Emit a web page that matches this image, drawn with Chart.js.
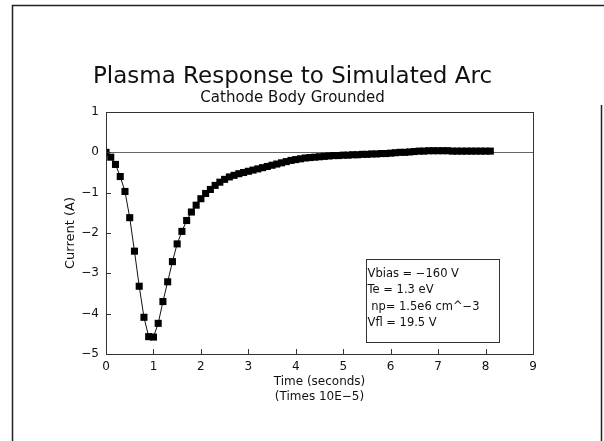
<!DOCTYPE html>
<html>
<head>
<meta charset="utf-8">
<script src="https://cdn.jsdelivr.net/npm/chart.js@4.4.1/dist/chart.umd.min.js"></script>
<style>
  html, body { margin: 0; padding: 0; background: #fff; }
  #wrap { width: 604px; height: 441px; }
</style>
</head>
<body>
<div id="wrap"><canvas id="myChart" width="604" height="441"></canvas></div>
<script>
// time in units of 1e-5 s, current in A
var times = [0.0, 0.1, 0.2, 0.3, 0.4, 0.5, 0.6, 0.7, 0.8, 0.9,
  1.0, 1.1, 1.2, 1.3, 1.4, 1.5, 1.6, 1.7, 1.8, 1.9,
  2.0, 2.1, 2.2, 2.3, 2.4, 2.5, 2.6, 2.7, 2.8, 2.9,
  3.0, 3.1, 3.2, 3.3, 3.4, 3.5, 3.6, 3.7, 3.8, 3.9,
  4.0, 4.1, 4.2, 4.3, 4.4, 4.5, 4.6, 4.7, 4.8, 4.9,
  5.0, 5.1, 5.2, 5.3, 5.4, 5.5, 5.6, 5.7, 5.8, 5.9,
  6.0, 6.1, 6.2, 6.3, 6.4, 6.5, 6.6, 6.7, 6.8, 6.9,
  7.0, 7.1, 7.2, 7.3, 7.4, 7.5, 7.6, 7.7, 7.8, 7.9,
  8.0, 8.1];
var current = [0, -0.12, -0.3, -0.6, -0.97, -1.62, -2.45, -3.32, -4.09, -4.57,
  -4.58, -4.24, -3.7, -3.21, -2.71, -2.27, -1.96, -1.69, -1.48, -1.31,
  -1.15, -1.02, -0.92, -0.82, -0.74, -0.67, -0.61, -0.57, -0.53, -0.5,
  -0.47, -0.44, -0.41, -0.38, -0.35, -0.32, -0.29, -0.26, -0.23, -0.2,
  -0.18, -0.16, -0.14, -0.13, -0.12, -0.11, -0.1, -0.09, -0.08, -0.08,
  -0.07, -0.07, -0.06, -0.06, -0.05, -0.05, -0.04, -0.04, -0.03, -0.03,
  -0.02, -0.01, 0, 0, 0.01, 0.02, 0.03, 0.03, 0.04, 0.04,
  0.04, 0.04, 0.04, 0.03, 0.03, 0.03, 0.03, 0.03, 0.03, 0.03,
  0.03, 0.03];
var xTicks = [0, 1, 2, 3, 4, 5, 6, 7, 8, 9];
var yTicks = [-5, -4, -3, -2, -1, 0, 1];
var noteLines = ['Vbias = \u2212160 V', 'Te = 1.3 eV', ' np= 1.5e6 cm^\u22123', 'Vfl = 19.5 V'];

var font = '"DejaVu Sans", sans-serif';

// page frame, plot box, inward ticks and the parameter box
var decor = {
  id: 'decor',
  beforeDraw: function(chart) {
    var c = chart.ctx;
    c.save();
    c.strokeStyle = '#222';
    c.lineWidth = 1.5;
    c.beginPath();
    c.moveTo(12.5, 441); c.lineTo(12.5, 5.5); c.lineTo(604, 5.5);
    c.moveTo(601.5, 105); c.lineTo(601.5, 441);
    c.stroke();
    c.restore();
  },
  afterDatasetsDraw: function(chart) {
    var c = chart.ctx, a = chart.chartArea;
    var xs = chart.scales.x, ys = chart.scales.y;
    c.save();
    c.strokeStyle = '#333';
    c.lineWidth = 1;
    c.strokeRect(a.left + 0.5, a.top + 0.5, a.right - a.left, a.bottom - a.top);
    c.beginPath();
    xTicks.forEach(function(v) {
      var px = Math.round(xs.getPixelForValue(v)) + 0.5;
      c.moveTo(px, a.bottom); c.lineTo(px, a.bottom - 5);
    });
    yTicks.forEach(function(v) {
      var py = Math.round(ys.getPixelForValue(v)) + 0.5;
      c.moveTo(a.left, py); c.lineTo(a.left + 5, py);
    });
    c.stroke();

    // parameter box, anchored in data coordinates
    var l = xs.getPixelForValue(5.47), r = xs.getPixelForValue(8.27);
    var t = ys.getPixelForValue(-2.64), b = ys.getPixelForValue(-4.69);
    c.fillStyle = '#fff';
    c.fillRect(l, t, r - l, b - t);
    c.strokeStyle = '#333';
    c.strokeRect(Math.round(l) + 0.5, Math.round(t) + 0.5, Math.round(r - l), Math.round(b - t));
    c.fillStyle = '#111';
    c.font = '11.5px ' + font;
    c.textBaseline = 'middle';
    c.textAlign = 'left';
    noteLines.forEach(function(s, i) {
      c.fillText(s, l + 2, t + 15 + i * 16.5);
    });
    c.restore();
  }
};

var ctx = document.getElementById('myChart').getContext('2d');
var myChart = new Chart(ctx, {
  type: 'line',
  data: {
    datasets: [{
      label: 'Current',
      data: times.map(function(t, i) { return { x: t, y: current[i] }; }),
      borderColor: '#111',
      borderWidth: 1,
      backgroundColor: '#000',
      pointStyle: 'rect',
      pointRadius: 5,
      pointBorderWidth: 0,
      pointBackgroundColor: '#000',
      tension: 0
    }]
  },
  options: {
    responsive: false,
    animation: false,
    devicePixelRatio: 1,
    layout: { padding: { left: 52, right: 71, top: 0, bottom: 37 } },
    plugins: {
      legend: { display: false },
      tooltip: { enabled: false },
      //Chart title
      title: {
        display: true,
        text: 'Plasma Response to Simulated Arc',
        color: '#111',
        font: { family: font, size: 23, weight: 'normal', lineHeight: 1 },
        padding: { top: 66, bottom: 0 }
      },
      //Chart subtitle
      subtitle: {
        display: true,
        text: 'Cathode Body Grounded',
        color: '#111',
        font: { family: font, size: 15, weight: 'normal', lineHeight: 1 },
        padding: { top: 2, bottom: 6 }
      }
    },
    scales: {
      x: {
        type: 'linear',
        min: 0,
        max: 9,
        afterBuildTicks: function(s) { s.ticks = xTicks.map(function(v) { return { value: v }; }); },
        afterFit: function(s) { s.height = 50; },
        grid: { display: false, drawTicks: false },
        border: { display: false },
        ticks: { color: '#111', font: { family: font, size: 12 }, padding: 6 },
        title: {
          display: true,
          text: ['Time (seconds)', '(Times 10E\u22125)'],
          color: '#111',
          font: { family: font, size: 12, lineHeight: 1.25 },
          padding: { top: 0, bottom: 0 }
        }
      },
      y: {
        type: 'linear',
        min: -5,
        max: 1,
        afterBuildTicks: function(s) { s.ticks = yTicks.map(function(v) { return { value: v }; }); },
        afterFit: function(s) { s.width = 54; },
        grid: {
          drawTicks: false,
          lineWidth: 1,
          color: function(c) { return c.tick && c.tick.value === 0 ? '#666' : 'transparent'; }
        },
        border: { display: false },
        ticks: {
          color: '#111',
          font: { family: font, size: 12 },
          padding: 7,
          callback: function(v) { return v < 0 ? '\u2212' + Math.abs(v) : String(v); }
        },
        title: {
          display: true,
          text: 'Current (A)',
          color: '#111',
          font: { family: font, size: 13 },
          padding: { top: 11, bottom: 6 }
        }
      }
    }
  },
  plugins: [decor]
});
</script>
</body>
</html>
